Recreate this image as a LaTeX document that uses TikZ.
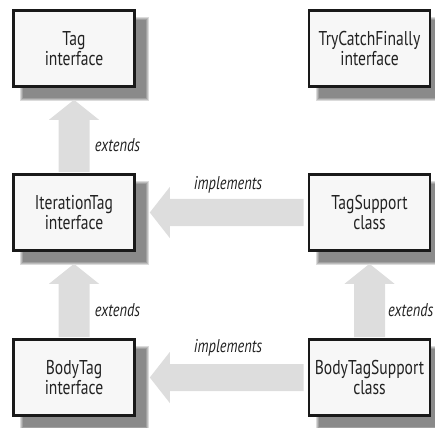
\documentclass[tikz,border=0pt]{standalone}
\usepackage{fontspec}
\setmainfont[FakeStretch=0.78]{PT Sans}
\usetikzlibrary{calc,backgrounds}
\definecolor{arrowgray}{HTML}{DDDDDD}
\definecolor{boxfill}{HTML}{F7F7F7}
\definecolor{txt}{HTML}{222222}
\tikzset{
  umlbox/.style={draw=black!90, line width=2.6pt, fill=boxfill, minimum width=121pt,
    minimum height=76pt, align=center, inner sep=0pt, text=txt,
    font=\fontsize{20}{20}\selectfont},
  lbl/.style={font=\fontsize{18.5}{20}\selectfont\itshape, text=txt, inner sep=0pt},
  fatarrow/.style={fill=arrowgray, draw=none},
}
\newcommand\myboxshadow[1]{%
  \foreach \i in {0,1,2,3}{%
    \fill[black, opacity=0.14] ($(#1.south west)+(8+\i,13-\i)$) rectangle ($(#1.north east)+(13-\i,8+\i)$);
  }%
}
\newcommand\myfatup[2]{% #1 top node, #2 bottom node
  \fill[fatarrow] ($(#1.south)+(0,12)$) -- ($(#1.south)+(25,32)$) -- ($(#1.south)+(15.5,32)$)
    -- ($(#2.north)+(15.5,-1)$) -- ($(#2.north)+(-15.5,-1)$) -- ($(#1.south)+(-15.5,32)$)
    -- ($(#1.south)+(-25,32)$) -- cycle;
}
\newcommand\myfatleft[2]{% #1 left node, #2 right node
  \fill[fatarrow] ($(#1.east)+(14,0)$) -- ($(#1.east)+(34,-25.5)$) -- ($(#1.east)+(34,-13.5)$)
    -- ($(#2.west)+(-4,-13.5)$) -- ($(#2.west)+(-4,13.5)$) -- ($(#1.east)+(34,13.5)$)
    -- ($(#1.east)+(34,25.5)$) -- cycle;
}
\begin{document}
\begin{tikzpicture}[x=1pt,y=-1pt]
\useasboundingbox (0,0) rectangle (435,427);
\node[umlbox] (tag) at (74,48.5) {Tag\\interface};
\node[umlbox] (trycatch) at (369.5,48.5) {TryCatchFinally\\interface};
\node[umlbox] (iter) at (74,212.5) {IterationTag\\interface};
\node[umlbox] (tagsup) at (369.5,212.5) {TagSupport\\class};
\node[umlbox] (body) at (74,377.5) {BodyTag\\interface};
\node[umlbox] (bodysup) at (369.5,377.5) {BodyTagSupport\\class};
\begin{scope}[on background layer]
  \myboxshadow{tag}\myboxshadow{trycatch}\myboxshadow{iter}\myboxshadow{tagsup}\myboxshadow{body}\myboxshadow{bodysup}
  \myfatup{tag}{iter}
  \myfatup{iter}{body}
  \myfatup{tagsup}{bodysup}
  \myfatleft{iter}{tagsup}
  \myfatleft{body}{bodysup}
\end{scope}
\node[lbl] (e1) at (117.5,145) {extends};
\node[lbl] (e2) at (117.5,310) {extends};
\node[lbl, anchor=west] (e3) at (388,310) {extends};
\node[lbl] (i1) at (228,185) {implements};
\node[lbl] (i2) at (228,348) {implements};
\end{tikzpicture}
\end{document}
